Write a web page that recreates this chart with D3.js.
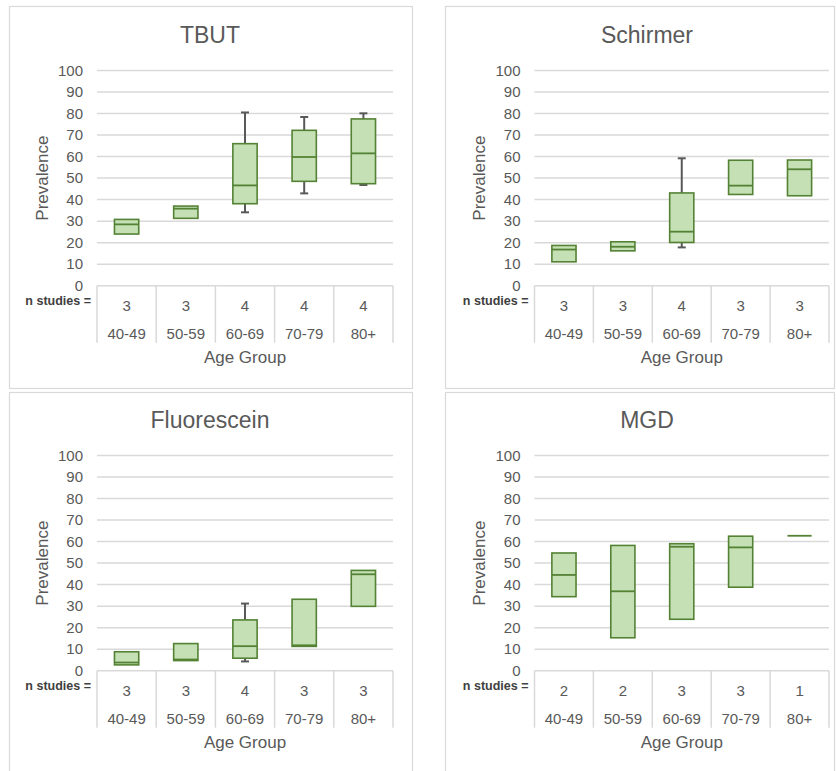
<!DOCTYPE html>
<html>
<head>
<meta charset="utf-8">
<script src="https://cdn.jsdelivr.net/npm/d3@7"></script>
<style>
  html, body { margin: 0; padding: 0; background: #fff; }
  svg { display: block; }
  text { font-family: "Liberation Sans", Arial, sans-serif; fill: #595959; }
</style>
</head>
<body>
<svg id="chart" width="836" height="771"></svg>
<script>
// ---- Data ----
const ageGroups = ["40-49", "50-59", "60-69", "70-79", "80+"];
const yTicks = [0, 10, 20, 30, 40, 50, 60, 70, 80, 90, 100];
const panelTitles = ["TBUT", "Schirmer", "Fluorescein", "MGD"];

const tbutN      = [3, 3, 4, 4, 4];
const tbutMin    = [24.0, 31.3, 34.1, 42.9, 46.8];
const tbutQ1     = [24.0, 31.3, 38.1, 48.5, 47.4];
const tbutMedian = [28.5, 35.8, 46.6, 59.8, 61.5];
const tbutQ3     = [30.8, 37.0, 66.0, 72.2, 77.5];
const tbutMax    = [30.8, 37.0, 80.5, 78.4, 80.1];

const schirmerN      = [3, 3, 4, 3, 3];
const schirmerMin    = [11.1, 16.2, 17.8, 42.4, 41.8];
const schirmerQ1     = [11.1, 16.2, 20.1, 42.4, 41.8];
const schirmerMedian = [16.8, 18.1, 25.1, 46.5, 54.1];
const schirmerQ3     = [18.7, 20.4, 43.1, 58.3, 58.4];
const schirmerMax    = [18.7, 20.4, 59.2, 58.3, 58.4];

const fluorN      = [3, 3, 4, 3, 3];
const fluorMin    = [2.7, 4.7, 4.3, 11.3, 29.9];
const fluorQ1     = [2.7, 4.7, 5.8, 11.3, 29.9];
const fluorMedian = [3.8, 5.2, 11.4, 11.8, 44.8];
const fluorQ3     = [8.8, 12.6, 23.6, 33.2, 46.6];
const fluorMax    = [8.8, 12.6, 31.2, 33.2, 46.6];

const mgdN      = [2, 2, 3, 3, 1];
const mgdMin    = [34.4, 15.3, 23.9, 38.8, 62.7];
const mgdQ1     = [34.4, 15.3, 23.9, 38.8, 62.7];
const mgdMedian = [44.5, 36.9, 57.6, 57.3, 62.7];
const mgdQ3     = [54.7, 58.2, 59.0, 62.5, 62.7];
const mgdMax    = [54.7, 58.2, 59.0, 62.5, 62.7];

// ---- Build panels ----
function series(n, mn, q1, md, q3, mx) {
  return ageGroups.map((g, i) => ({ group: g, n: n[i], min: mn[i], q1: q1[i], median: md[i], q3: q3[i], max: mx[i] }));
}
const panelData = [
  series(tbutN, tbutMin, tbutQ1, tbutMedian, tbutQ3, tbutMax),
  series(schirmerN, schirmerMin, schirmerQ1, schirmerMedian, schirmerQ3, schirmerMax),
  series(fluorN, fluorMin, fluorQ1, fluorMedian, fluorQ3, fluorMax),
  series(mgdN, mgdMin, mgdQ1, mgdMedian, mgdQ3, mgdMax)
];

// layout per panel: border box and plot area
const layouts = [
  { bx: 9.5,   by: 6.5,   bw: 403, bh: 382, x0: 97,    x1: 393, yTop: 70.5,  yBot: 285.7, tx: 210 },
  { bx: 445.5, by: 6.5,   bw: 389, bh: 382, x0: 534.5, x1: 829, yTop: 70.5,  yBot: 285.7, tx: 647 },
  { bx: 9.5,   by: 392.5, bw: 403, bh: 385, x0: 97,    x1: 393, yTop: 455.5, yBot: 670.7, tx: 210 },
  { bx: 445.5, by: 392.5, bw: 389, bh: 385, x0: 534.5, x1: 829, yTop: 455.5, yBot: 670.7, tx: 647 }
];

const svg = d3.select("#chart");
const boxFill = "#c5e0b4", boxStroke = "#548235", whiskerColor = "#595959", gridColor = "#d9d9d9";

panelData.forEach((data, pi) => {
  const L = layouts[pi];
  const g = svg.append("g");

  g.append("rect").attr("x", L.bx).attr("y", L.by).attr("width", L.bw).attr("height", L.bh)
    .attr("fill", "#fff").attr("stroke", "#d9d9d9").attr("stroke-width", 1.2);

  const x = d3.scaleBand().domain(ageGroups).range([L.x0, L.x1]).paddingInner(0).paddingOuter(0);
  const y = d3.scaleLinear().domain([0, 100]).range([L.yBot, L.yTop]);

  // title
  g.append("text").attr("x", L.tx).attr("y", L.yTop - 28).attr("text-anchor", "middle")
    .style("font-size", "23px").text(panelTitles[pi]);

  // gridlines
  g.selectAll(".grid").data(yTicks.filter(t => t > 0)).join("line")
    .attr("x1", L.x0).attr("x2", L.x1).attr("y1", d => y(d)).attr("y2", d => y(d))
    .attr("stroke", gridColor).attr("stroke-width", 1.5);

  // y axis labels
  const yAxis = d3.axisLeft(y).tickValues(yTicks).tickSize(0).tickPadding(14);
  const ya = g.append("g").attr("transform", `translate(${L.x0},0)`).call(yAxis);
  ya.select(".domain").remove();
  ya.selectAll("text").style("font-size", "15px").style("font-family", "'Liberation Sans', Arial, sans-serif").attr("fill", "#595959");

  // y title
  g.append("text").attr("transform", `translate(${L.x0 - 55},${(L.yTop + L.yBot) / 2}) rotate(-90)`)
    .attr("text-anchor", "middle").attr("dy", "0.35em").style("font-size", "17px").text("Prevalence");

  // table: top line, vertical separators
  g.append("line").attr("x1", L.x0).attr("x2", L.x1).attr("y1", L.yBot).attr("y2", L.yBot)
    .attr("stroke", gridColor).attr("stroke-width", 1.5);
  const edges = ageGroups.map(a => x(a)).concat([L.x1]);
  g.selectAll(".sep").data(edges).join("line")
    .attr("x1", d => d).attr("x2", d => d).attr("y1", L.yBot).attr("y2", L.yBot + 57)
    .attr("stroke", gridColor).attr("stroke-width", 1.5);

  // n studies label
  g.append("text").attr("x", L.x0 - 6).attr("y", L.yBot + 19).attr("text-anchor", "end")
    .style("font-size", "12.5px").style("font-weight", "bold").style("fill", "#404040").text("n studies =");

  // n values
  g.selectAll(".nval").data(data).join("text")
    .attr("x", d => x(d.group) + x.bandwidth() / 2).attr("y", L.yBot + 25)
    .attr("text-anchor", "middle").style("font-size", "15px").text(d => d.n);

  // category labels
  g.selectAll(".cat").data(data).join("text")
    .attr("x", d => x(d.group) + x.bandwidth() / 2).attr("y", L.yBot + 53)
    .attr("text-anchor", "middle").style("font-size", "15px").text(d => d.group);

  // x title
  g.append("text").attr("x", (L.x0 + L.x1) / 2).attr("y", L.yBot + 77).attr("text-anchor", "middle")
    .style("font-size", "17px").text("Age Group");

  const bw = x.bandwidth() * 0.41;
  const cap = 8;
  const boxes = g.selectAll(".box").data(data).join("g")
    .attr("transform", d => `translate(${x(d.group) + x.bandwidth() / 2},0)`);

  // whiskers
  boxes.filter(d => d.max > d.q3).append("line")
    .attr("x1", 0).attr("x2", 0).attr("y1", d => y(d.max)).attr("y2", d => y(d.q3))
    .attr("stroke", whiskerColor).attr("stroke-width", 2);
  boxes.filter(d => d.max > d.q3).append("line")
    .attr("x1", -cap / 2).attr("x2", cap / 2).attr("y1", d => y(d.max)).attr("y2", d => y(d.max))
    .attr("stroke", whiskerColor).attr("stroke-width", 2);
  boxes.filter(d => d.min < d.q1).append("line")
    .attr("x1", 0).attr("x2", 0).attr("y1", d => y(d.q1)).attr("y2", d => y(d.min))
    .attr("stroke", whiskerColor).attr("stroke-width", 2);
  boxes.filter(d => d.min < d.q1).append("line")
    .attr("x1", -cap / 2).attr("x2", cap / 2).attr("y1", d => y(d.min)).attr("y2", d => y(d.min))
    .attr("stroke", whiskerColor).attr("stroke-width", 2);

  // box
  boxes.append("rect")
    .attr("x", -bw / 2).attr("width", bw)
    .attr("y", d => y(d.q3)).attr("height", d => Math.max(0, y(d.q1) - y(d.q3)))
    .attr("fill", boxFill).attr("stroke", boxStroke).attr("stroke-width", 1.6);
  // median
  boxes.append("line")
    .attr("x1", -bw / 2).attr("x2", bw / 2).attr("y1", d => y(d.median)).attr("y2", d => y(d.median))
    .attr("stroke", boxStroke).attr("stroke-width", 1.8);
});
</script>
</body>
</html>
